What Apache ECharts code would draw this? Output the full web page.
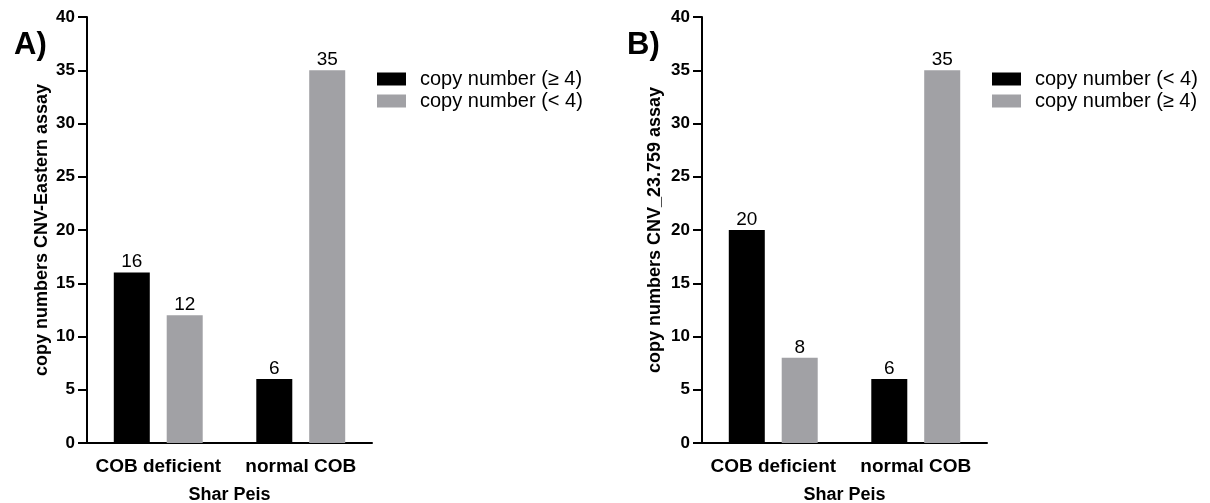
<!DOCTYPE html>
<html><head><meta charset="utf-8">
<script src="https://cdn.jsdelivr.net/npm/echarts@6/dist/echarts.min.js"></script>
<style>html,body{margin:0;padding:0;background:#fff;}#a,#b{position:absolute;top:0;width:605px;height:503px;}#a{left:0}#b{left:605px}</style>
</head><body><div id="a"></div><div id="b"></div>
<script>
const categories = ['COB deficient', 'normal COB'];
const yTicks = [0, 5, 10, 15, 20, 25, 30, 35, 40];
const seriesA1Name = 'copy number (\u2265 4)';
const seriesA1 = [16, 6];
const seriesA2Name = 'copy number (< 4)';
const seriesA2 = [12, 35];
const seriesB1Name = 'copy number (< 4)';
const seriesB1 = [20, 6];
const seriesB2Name = 'copy number (\u2265 4)';
const seriesB2 = [8, 35];

const FONT = 'Liberation Sans, Arial, sans-serif';
const GRAY = '#a1a1a5';

function makeOption(panel, titleLeft, yName, yNameGap, names, vals, gridLeft, legendLeft) {
  return {
    animation: false,
    textStyle: { fontFamily: FONT },
    title: { text: panel, left: titleLeft, top: 30, padding: 0, textStyle: { fontFamily: FONT, fontSize: 31, fontWeight: 'bold', color: '#000' } },
    legend: {
      orient: 'vertical', left: legendLeft, top: 64, icon: 'rect', itemWidth: 29, itemHeight: 13, itemGap: 2,
      textStyle: { fontFamily: FONT, fontSize: 20, color: '#000', padding: [0, 0, 0, 9] },
      data: names
    },
    grid: { left: gridLeft, top: 17, width: 285, height: 426, outerBoundsMode: 'none', containLabel: false },
    xAxis: {
      type: 'category', data: categories,
      name: 'Shar Peis', nameLocation: 'middle', nameGap: 43,
      nameTextStyle: { fontFamily: FONT, fontSize: 18, fontWeight: 'bold', color: '#000' },
      axisLine: { lineStyle: { color: '#000', width: 2 } },
      axisTick: { alignWithLabel: true, length: 7, lineStyle: { color: '#000', width: 2 } },
      axisLabel: { interval: 0, hideOverlap: false, fontFamily: FONT, fontSize: 19, fontWeight: 'bold', color: '#000', margin: 14 }
    },
    yAxis: {
      type: 'value', min: yTicks[0], max: yTicks[yTicks.length - 1], interval: yTicks[1] - yTicks[0],
      name: yName, nameLocation: 'middle', nameGap: yNameGap, nameRotate: 90,
      nameTextStyle: { fontFamily: FONT, fontSize: 18, fontWeight: 'bold', color: '#000' },
      axisLine: { show: true, lineStyle: { color: '#000', width: 2 } },
      axisTick: { show: true, length: 9, lineStyle: { color: '#000', width: 2 } },
      axisLabel: { fontFamily: FONT, fontSize: 17, fontWeight: 'bold', color: '#000', margin: 12 },
      splitLine: { show: false }
    },
    series: [
      { name: names[0], type: 'bar', data: vals[0], barWidth: 36, barGap: '47%', itemStyle: { color: '#000' },
        label: { show: true, position: 'top', distance: 1, fontFamily: FONT, fontSize: 19, color: '#000' } },
      { name: names[1], type: 'bar', data: vals[1], barWidth: 36, barGap: '47%', itemStyle: { color: GRAY },
        label: { show: true, position: 'top', distance: 1, fontFamily: FONT, fontSize: 19, color: '#000' } }
    ]
  };
}

const ca = echarts.init(document.getElementById('a'));
ca.setOption(makeOption('A)', 14, 'copy numbers CNV-Eastern assay', 36, [seriesA1Name, seriesA2Name], [seriesA1, seriesA2], 87, 372));
const cb = echarts.init(document.getElementById('b'));
cb.setOption(makeOption('B)', 22, 'copy numbers CNV_23.759 assay', 38, [seriesB1Name, seriesB2Name], [seriesB1, seriesB2], 97, 382));
</script></body></html>
